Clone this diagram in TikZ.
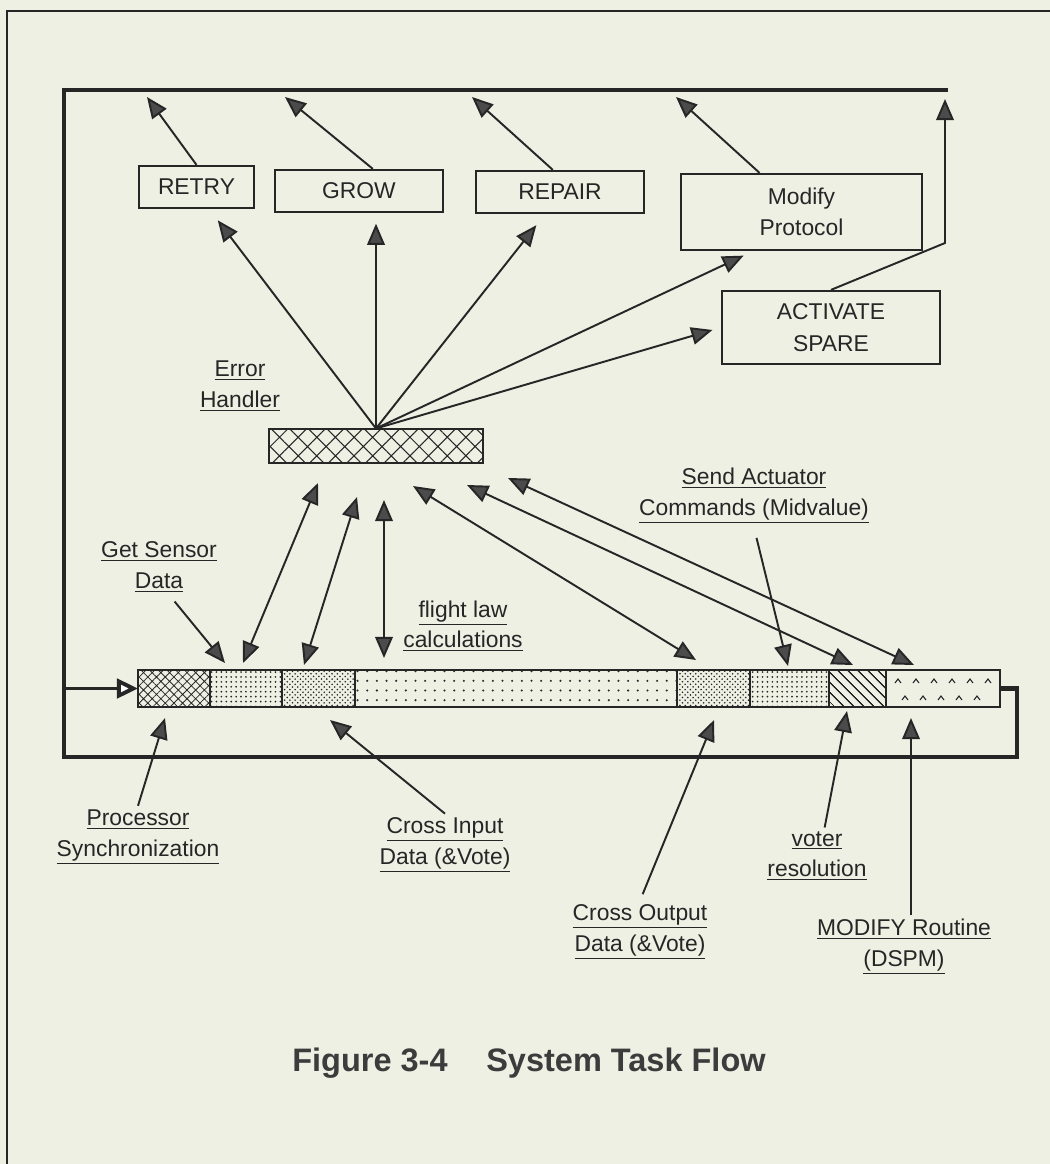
\documentclass[tikz,border=0pt]{standalone}
\usepackage{fontspec}
\setmainfont{Liberation Sans}
\usetikzlibrary{arrows.meta,positioning,patterns,patterns.meta}
\definecolor{paper}{RGB}{238,240,228}
\definecolor{ink}{RGB}{38,38,38}
\definecolor{tipgray}{RGB}{75,75,75}
\newcommand{\twoline}[2]{\underline{#1}\\\underline{#2}}

\begin{document}
\begin{tikzpicture}[x=0.02cm,y=-0.02cm,
  >={Triangle[length=12pt,width=10pt,fill=tipgray]},
  every node/.style={text=ink},
  arr/.style={draw=ink,line width=1.1pt,->},
  darr/.style={draw=ink,line width=1.1pt,<->},
  task/.style={draw=ink,line width=1.3pt,inner sep=0pt,align=center,font=\fontsize{13}{18}\selectfont},
  lbl/.style={align=center,inner sep=2pt,font=\fontsize{13}{17.5}\selectfont},
  cell/.style={draw=ink,line width=1.1pt,minimum height=0.74cm,inner sep=0pt,outer sep=0pt,pattern color=ink},
  loopline/.style={draw=ink,line width=2.6pt}]
\fill[paper] (0,0) rectangle (1050,1164);
\useasboundingbox (0,0) rectangle (1050,1164);
\draw[ink,line width=1.2pt] (1050,11) -- (7,11) -- (7,1164);

\node[task,minimum width=2.30cm,minimum height=0.84cm] (retry) at (196.5,187) {RETRY};
\node[task,minimum width=3.36cm,minimum height=0.84cm] (grow) at (359,191) {GROW};
\node[task,minimum width=3.36cm,minimum height=0.84cm] (repair) at (560,192) {REPAIR};
\node[task,minimum width=4.82cm,minimum height=1.52cm] (modp) at (801.5,212) {Modify\\Protocol};
\node[task,minimum width=4.36cm,minimum height=1.46cm] (spare) at (831,327.5) {ACTIVATE\\SPARE};
\node[draw=ink,line width=1.3pt,minimum width=4.28cm,minimum height=0.68cm,inner sep=0pt,
  pattern={Hatch[angle=45,distance=7.5pt,line width=0.6pt]},pattern color=ink] (eh) at (376,446) {};

\node[cell,minimum width=1.44cm,pattern={Hatch[angle=45,distance=3.5pt,line width=0.45pt]}] (c1) at (174,688.5) {};
\node[cell,minimum width=1.44cm,right=0pt of c1,pattern={Dots[distance=2.8pt,radius=0.55pt]}] (c2) {};
\node[cell,minimum width=1.46cm,right=0pt of c2,pattern=crosshatch dots] (c3) {};
\node[cell,minimum width=6.44cm,right=0pt of c3,pattern={Dots[distance=5.5pt,radius=0.65pt]}] (c4) {};
\node[cell,minimum width=1.46cm,right=0pt of c4,pattern=crosshatch dots] (c5) {};
\node[cell,minimum width=1.58cm,right=0pt of c5,pattern={Dots[distance=2.8pt,radius=0.55pt]}] (c6) {};
\node[cell,minimum width=1.14cm,right=0pt of c6,pattern={Lines[angle=-45,distance=4pt,line width=0.8pt]}] (c7) {};
\node[cell,minimum width=2.28cm,right=0pt of c7] (c8) {};
\foreach \x in {898,916,...,988} \draw[ink,line width=0.6pt] (\x-3,683) -- (\x,679) -- (\x+3,683);
\foreach \x in {905,923,...,990} \draw[ink,line width=0.6pt] (\x-3,700) -- (\x,696) -- (\x+3,700);

\draw[loopline] (c8.east) -- ++(17,0) |- (64,757) -- (64,90) -- (948,90);
\draw[draw=ink,line width=2.2pt,-{Triangle[open,length=12pt,width=11pt,fill=white]}] (64,688.5) -- (c1.west);

\node[lbl] (ehl) at (240,386) {\twoline{Error}{Handler}};
\node[lbl] (gsd) at (159,567) {\twoline{Get Sensor}{Data}};
\node[lbl] (flc) at (463,626) {\twoline{flight law}{calculations}};
\node[lbl] (sac) at (754,496) {\twoline{Send Actuator}{Commands (Midvalue)}};
\node[lbl] (psy) at (138,837) {\twoline{Processor}{Synchronization}};
\node[lbl] (cin) at (445,845) {\twoline{Cross Input}{Data (\&Vote)}};
\node[lbl] (cout) at (640,932) {\twoline{Cross Output}{Data (\&Vote)}};
\node[lbl] (vot) at (817,856) {\twoline{voter}{resolution}};
\node[lbl] (mrt) at (904,947) {\twoline{MODIFY Routine}{(DSPM)}};
\node[font=\fontsize{18.5}{22}\selectfont\bfseries,text=ink!90] (cap) at (529,1063) {Figure 3-4\hspace{22pt}System Task Flow};

\coordinate (retryup) at (147,97);
\coordinate (growup) at (285,97);
\coordinate (repairup) at (472,97);
\coordinate (modpup) at (676,97);
\coordinate (sparebend) at (945,243);
\coordinate (spareup) at (945,99);
\coordinate (ehA) at (318,483);  \coordinate (barA) at (243,663);
\coordinate (ehB) at (357,497);  \coordinate (barB) at (304,665);
\coordinate (ehC) at (384,500);  \coordinate (barC) at (384,658);
\coordinate (ehD) at (413,486);  \coordinate (barD) at (696,660);
\coordinate (ehE) at (467,485);  \coordinate (barE) at (853,665);
\coordinate (ehF) at (508,478);  \coordinate (barF) at (914,665);
\coordinate (gsdtip) at (225,663);
\coordinate (sactip) at (788,666);
\coordinate (psytip) at (165,718);
\coordinate (cintip) at (330,720);
\coordinate (couttip) at (714,720);
\coordinate (vottip) at (847,711);
\coordinate (mrttip) at (911,718);

\draw[arr] (retry.north) -- (retryup);
\draw[arr] (grow.58) -- (growup);
\draw[arr] (repair.108) -- (repairup);
\draw[arr] (modp.137) -- (modpup);
\draw[arr] (spare.north) -- (sparebend) -- (spareup);

\draw[arr,shorten >=8pt] (eh.north) -- (retry.-60);
\draw[arr,shorten >=6pt] (eh.north) -- (grow.south -| eh.north);
\draw[arr,shorten >=8pt] (eh.north) -- (repair.-124);
\draw[arr,shorten >=6pt] (eh.north) -- (modp.-141);
\draw[arr,shorten >=5pt] (eh.north) -- (spare.west);

\draw[darr] (ehA) -- (barA);
\draw[darr] (ehB) -- (barB);
\draw[darr] (ehC) -- (barC);
\draw[darr] (ehD) -- (barD);
\draw[darr] (ehE) -- (barE);
\draw[darr] (ehF) -- (barF);

\draw[arr,shorten <=4pt] (gsd.-69) -- (gsdtip);
\draw[arr,shorten <=6pt] (sac.south) -- (sactip);
\draw[arr] (psy.north) -- (psytip);
\draw[arr] (cin.north) -- (cintip);
\draw[arr,shorten <=4pt] (cout.north) -- (couttip);
\draw[arr] (vot.75) -- (vottip);
\draw[arr] (mrttip |- mrt.north) -- (mrttip);
\end{tikzpicture}
\end{document}
